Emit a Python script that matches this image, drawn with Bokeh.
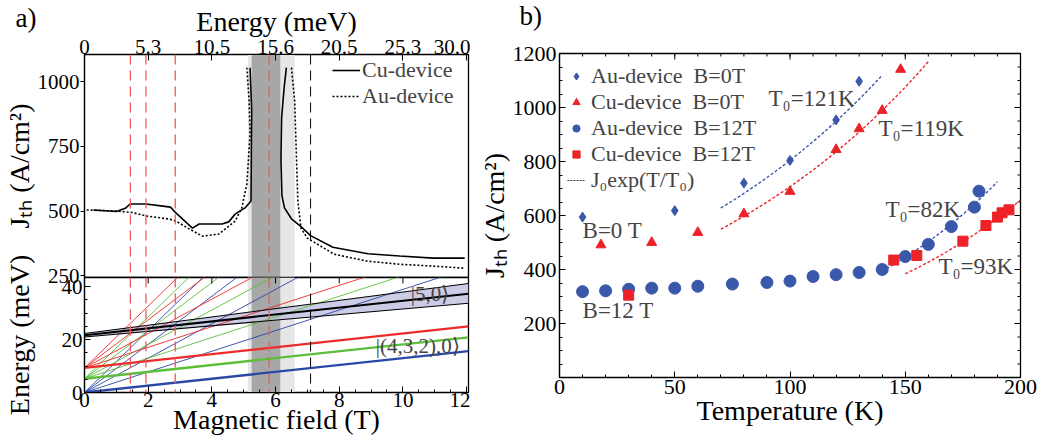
import numpy as np
from bokeh.plotting import figure
from bokeh.layouts import row, column
from bokeh.models import (Range1d, FixedTicker, BoxAnnotation, Span,
                          Legend, LegendItem, Label)
from bokeh.embed import file_html
from bokeh.resources import INLINE
from bokeh.core.properties import value

nan = float("nan")
FONT = "Liberation Serif"

# ---------------- panel a (top): threshold current density vs magnetic field ----------------
cu_B = [0.28, 1.0, 1.3, 1.43, 1.93, 2.46, 2.7, 2.87, 3.39, 3.6, 3.9, 4.32, 4.53, 4.73, 5.04, 5.23, 5.24, 5.25, 5.2,
        nan, 6.34, 6.27, 6.19, 6.17, 6.2, 6.28, 6.5, 6.8, 7.1, 7.8, 8.9, 9.9, 10.95, 11.94]
cu_J = [504, 498, 512, 527, 527, 519, 515, 493, 434, 450, 450, 450, 458, 488, 512, 539, 733, 888, 1054,
        nan, 1054, 977, 860, 700, 560, 512, 470, 440, 405, 360, 335, 326, 318, 318]
au_B = [0.07, 1.0, 1.5, 1.93, 2.66, 2.87, 3.3, 3.7, 4.22, 4.73, 4.94, 5.1, 5.2, 5.17, 5.1,
        nan, 6.5, 6.6, 6.65, 6.7, 6.8, 7.0, 7.84, 8.89, 9.92, 10.95, 11.94]
au_J = [504, 500, 494, 481, 469, 461, 430, 403, 411, 461, 512, 605, 798, 926, 1054,
        nan, 1054, 926, 733, 539, 434, 395, 333, 306, 294, 287, 279]

energy_tick_B = [0, 2, 4, 6, 8, 10, 12]
energy_tick_labels = ["0", "5.3", "10.5", "15.6", "20.5", "25.3", "30.0"]
jth_ticks_a = [250, 500, 750, 1000]

red_dash_B = [1.44, 1.93, 2.85, 5.8]
black_dash_B = [7.1]
light_band_B = [5.13, 6.6]
dark_band_B = [5.25, 6.15]

# ---------------- panel a (bottom): level fan ----------------
fan_offsets = [0.0, 5.2, 9.3]          # meV at B = 0
fan_colors = ["#2a47a6", "#5cbf3a", "#ee2a2a"]
fan_slopes = [1.3, 3.9, 6.5, 9.1, 11.7]  # meV / T
band_E0 = [21.0, 21.7, 22.3]           # lower, centre, upper of |5,0> band at B = 0
band_slope = [1.06, 1.3, 1.57]
field_ticks = [0, 2, 4, 6, 8, 10, 12]
fan_E_ticks = [0, 20, 40]

# ---------------- panel b: Jth vs temperature ----------------
au0_T = [10, 50, 80, 100, 120, 130]
au0_J = [594, 618, 720, 804, 954, 1097]
cu0_T = [18, 40, 60, 80, 100, 120, 130, 140, 148]
cu0_J = [491, 500, 537, 606, 689, 844, 921, 989, 1141]
au12_T = [10, 20, 30, 40, 50, 60, 75, 90, 100, 110, 120, 130, 140, 150, 160, 170, 180, 182]
au12_J = [318, 321, 327, 331, 331, 338, 346, 352, 357, 374, 381, 389, 400, 448, 493, 559, 631, 690]
cu12_T = [30, 145, 155, 175, 185, 190, 192, 195]
cu12_J = [305, 435, 452, 505, 563, 594, 610, 621]

fit_J0 = [352, 305, 71.5, 76.5]
fit_T0 = [121, 119, 82, 93]
fit_Tmin = [70, 70, 140, 150]
fit_Tmax = [140, 160, 190, 200]
fit_labels = ["T₀=121K", "T₀=119K", "T₀=82K", "T₀=93K"]

temp_ticks = [0, 50, 100, 150, 200]
temp_minor = list(range(0, 201, 10))
jth_ticks_b = [200, 400, 600, 800, 1000, 1200]
jth_minor_b = list(range(0, 1201, 50))

panel_letters = ["a)", "b)"]

BLUE = "#3a58aa"
RED = "#ec2227"


def frame_style(p, transparent_border=True):
    p.xgrid.visible = False
    p.ygrid.visible = False
    p.outline_line_color = "black"
    p.outline_line_width = 1.3
    p.background_fill_color = "white"
    p.border_fill_color = "white"
    if transparent_border:
        p.border_fill_alpha = 0


def style_axis(ax, label_size="21px", title_size="28px"):
    ax.axis_line_color = "black"
    ax.axis_line_width = 1.2
    ax.major_tick_line_color = "black"
    ax.minor_tick_line_color = "black"
    ax.major_label_text_font = FONT
    ax.major_label_text_font_size = label_size
    ax.major_label_text_color = "black"
    ax.axis_label_text_font = FONT
    ax.axis_label_text_font_size = title_size
    ax.axis_label_text_font_style = "normal"
    ax.axis_label_text_color = "black"


def mirror_ticks(p, xticks, xminor, yticks, yminor, x_end, y_end, px_per_x, px_per_y):
    """tick marks pointing into the frame from the top (y_end) and right (x_end) edges"""
    for vals, L in ((xticks, 6), (xminor, 3)):
        dy = L / px_per_y
        p.segment(x0=vals, y0=[y_end] * len(vals), x1=vals, y1=[y_end - dy] * len(vals),
                  line_color="black", line_width=1)
    if yticks is not None:
        for vals, L in ((yticks, 6), (yminor, 3)):
            dx = L / px_per_x
            p.segment(x0=[x_end] * len(vals), y0=vals, x1=[x_end - dx] * len(vals), y1=vals,
                      line_color="black", line_width=1)


XMAX_A = 12.06

# ===== strip holding the panel letters =====
strip = figure(width=1037, height=40, x_range=Range1d(0, 1037), y_range=Range1d(40, 0),
               output_backend="svg", toolbar_location=None, min_border=0,
               x_axis_location=None, y_axis_location=None)
strip.xgrid.visible = False
strip.ygrid.visible = False
strip.outline_line_color = None
strip.text(x=[15, 519], y=[17, 15], text=panel_letters, text_font=value(FONT),
           text_font_size="27px", text_baseline="middle", text_color="black")

# ===== top of panel a =====
top = figure(width=470, height=290, x_range=Range1d(0, XMAX_A), y_range=Range1d(243, 1105),
             x_axis_location="above", output_backend="svg", toolbar_location=None,
             min_border_left=81, min_border_right=2, min_border_top=54, min_border_bottom=13)
frame_style(top)
ax = top.xaxis[0]
style_axis(ax)
ax.ticker = FixedTicker(ticks=energy_tick_B)
ax.major_label_overrides = {int(b): t for b, t in zip(energy_tick_B, energy_tick_labels)}
ax.axis_label = "Energy (meV)"
ax.major_tick_in = 6
ax.major_tick_out = 0
ax.minor_tick_in = 0
ax.minor_tick_out = 0
ax.major_label_standoff = 1
ax.axis_label_standoff = 0

ay = top.yaxis[0]
style_axis(ay)
ay.ticker = FixedTicker(ticks=jth_ticks_a)
ay.axis_label = "Jₜₕ (A/cm²)"
ay.major_tick_out = 4
ay.major_tick_in = 0
ay.minor_tick_in = 0
ay.minor_tick_out = 0
ay.major_label_standoff = 1
ay.axis_label_standoff = 0

top.add_layout(BoxAnnotation(left=light_band_B[0], right=light_band_B[1], fill_color="#e6e6e6",
                             fill_alpha=1, line_alpha=0, level="underlay"))
top.add_layout(BoxAnnotation(left=dark_band_B[0], right=dark_band_B[1], fill_color="#a7a7a7",
                             fill_alpha=1, line_alpha=0, level="underlay"))
for b in red_dash_B:
    top.add_layout(Span(location=b, dimension="height", line_color="#ee5a5a", line_dash="10 6", line_width=1.3))
for b in black_dash_B:
    top.add_layout(Span(location=b, dimension="height", line_color="black", line_dash="10 6", line_width=1.0))

r_cu = top.line(cu_B, cu_J, line_color="black", line_width=1.6)
r_au = top.line(au_B, au_J, line_color="black", line_width=1.6, line_dash="2 2")
leg_a = Legend(items=[LegendItem(label="Cu-device", renderers=[r_cu]),
                      LegendItem(label="Au-device", renderers=[r_au])],
               location=(247, 167), padding=1, spacing=0, glyph_width=28, glyph_height=20,
               label_standoff=2, label_text_font=FONT, label_text_font_size="22px",
               background_fill_alpha=0, border_line_alpha=0)
top.add_layout(leg_a)

# ===== bottom of panel a =====
bot = figure(width=470, height=211, x_range=top.x_range, y_range=Range1d(0, 43.5),
             output_backend="svg", toolbar_location=None, margin=(-53, 0, 0, 0),
             min_border_left=81, min_border_right=2, min_border_top=40, min_border_bottom=56)
frame_style(bot)
bx = bot.xaxis[0]
style_axis(bx)
bx.ticker = FixedTicker(ticks=field_ticks, minor_ticks=list(np.arange(0, 12.01, 0.5)))
bx.axis_label = "Magnetic field (T)"
bx.major_tick_in = 6
bx.major_tick_out = 0
bx.minor_tick_in = 3
bx.minor_tick_out = 0
bx.major_label_standoff = 0
bx.axis_label_standoff = -6

by = bot.yaxis[0]
style_axis(by)
by.ticker = FixedTicker(ticks=fan_E_ticks, minor_ticks=list(range(0, 44, 5)))
by.axis_label = "Energy (meV)"
by.major_tick_in = 6
by.major_tick_out = 0
by.minor_tick_in = 3
by.minor_tick_out = 0
by.major_label_standoff = 2
by.axis_label_standoff = 24

bot.add_layout(BoxAnnotation(left=light_band_B[0], right=light_band_B[1], fill_color="#e6e6e6",
                             fill_alpha=1, line_alpha=0, level="underlay"))
bot.add_layout(BoxAnnotation(left=dark_band_B[0], right=dark_band_B[1], fill_color="#a7a7a7",
                             fill_alpha=1, line_alpha=0, level="underlay"))

xs = [0, XMAX_A]
lo = [band_E0[0] + band_slope[0] * x for x in xs]
hi = [band_E0[2] + band_slope[2] * x for x in xs]
bot.varea(x=xs, y1=lo, y2=hi, fill_color="#c3c3e2", fill_alpha=0.85)

for off, col in zip(fan_offsets, fan_colors):
    for k, s in enumerate(fan_slopes):
        bot.line(xs, [off + s * x for x in xs], line_color=col,
                 line_width=2.3 if k == 0 else 0.9)
for k in range(3):
    bot.line(xs, [band_E0[k] + band_slope[k] * x for x in xs], line_color="black",
             line_width=2.0 if k == 1 else 1.1)

for b in red_dash_B:
    bot.add_layout(Span(location=b, dimension="height", line_color="#ee5a5a", line_dash="10 6", line_width=1.3))
for b in black_dash_B:
    bot.add_layout(Span(location=b, dimension="height", line_color="black", line_dash="10 6", line_width=1.0))

# ticks along the top edge of the level-fan frame
mirror_ticks(bot, field_ticks[1:-1], [], None, None, XMAX_A, 43.5, 387 / XMAX_A, 115 / 43.5)

bot.add_layout(Label(x=10.25, y=37.2, text="|5,0⟩", text_font=FONT, text_font_size="21px",
                     text_baseline="middle"))
bot.add_layout(Label(x=9.15, y=17.6, text="|(4,3,2),0⟩", text_font=FONT, text_font_size="21px",
                     text_baseline="middle"))

# ===== panel b =====
pb = figure(width=567, height=448, x_range=Range1d(0, 200), y_range=Range1d(0, 1200),
            output_backend="svg", toolbar_location=None,
            min_border_left=89, min_border_right=17, min_border_top=53, min_border_bottom=71)
frame_style(pb)
px = pb.xaxis[0]
style_axis(px, label_size="22px")
px.ticker = FixedTicker(ticks=temp_ticks, minor_ticks=temp_minor)
px.axis_label = "Temperature (K)"
px.major_tick_in = 6
px.major_tick_out = 0
px.minor_tick_in = 3
px.minor_tick_out = 0
px.major_label_standoff = 2
px.axis_label_standoff = -2

py = pb.yaxis[0]
style_axis(py, label_size="22px")
py.ticker = FixedTicker(ticks=jth_ticks_b, minor_ticks=jth_minor_b)
py.axis_label = "Jₜₕ (A/cm²)"
py.major_tick_in = 6
py.major_tick_out = 0
py.minor_tick_in = 3
py.minor_tick_out = 0
py.major_label_standoff = 3
py.axis_label_standoff = 0

mirror_ticks(pb, temp_ticks, temp_minor, jth_ticks_b, jth_minor_b, 200, 1200, 461 / 200, 324 / 1200)

fit_colors = [BLUE, RED, BLUE, RED]
for J0, T0, t0, t1, c in zip(fit_J0, fit_T0, fit_Tmin, fit_Tmax, fit_colors):
    T = np.linspace(t0, t1, 60)
    pb.line(T, J0 * np.exp(T / T0), line_color=c, line_dash="3 2", line_width=1.4)

r1 = pb.scatter(au0_T, au0_J, marker="diamond", size=10, color=BLUE)
r2 = pb.scatter(cu0_T, cu0_J, marker="triangle", size=10, color=RED)
r3 = pb.scatter(au12_T, au12_J, marker="circle", size=12, color=BLUE)
r4 = pb.scatter(cu12_T, cu12_J, marker="square", size=10, color=RED)
r5 = pb.line([nan], [nan], line_color="#333333", line_dash="2 1", line_width=1.0)

leg_b = Legend(items=[LegendItem(label="Au-device  B=0T", renderers=[r1]),
                      LegendItem(label="Cu-device  B=0T", renderers=[r2]),
                      LegendItem(label="Au-device  B=12T", renderers=[r3]),
                      LegendItem(label="Cu-device  B=12T", renderers=[r4]),
                      LegendItem(label="J₀exp(T/T₀)", renderers=[r5])],
               location=(6, 182), padding=2, spacing=0, glyph_width=18, glyph_height=20,
               label_height=20, label_standoff=6, label_text_font=FONT, label_text_font_size="22px",
               background_fill_alpha=0, border_line_alpha=0)
pb.add_layout(leg_b)

ann_pos = [(90.7, 1033), (138.4, 922), (141.4, 622), (164.4, 411)]
for (tx, ty), txt in zip(ann_pos, fit_labels):
    pb.add_layout(Label(x=tx, y=ty, text=txt, text_font=FONT, text_font_size="23px", text_baseline="middle"))
pb.add_layout(Label(x=10, y=544, text="B=0 T", text_font=FONT, text_font_size="23px", text_baseline="middle"))
pb.add_layout(Label(x=10, y=248, text="B=12 T", text_font=FONT, text_font_size="23px", text_baseline="middle"))

body = row(column(top, bot, spacing=0), pb, spacing=0, margin=(-40, 0, 0, 0))
layout = column(strip, body, spacing=0)
open("out.html", "w").write(file_html(layout, INLINE))
